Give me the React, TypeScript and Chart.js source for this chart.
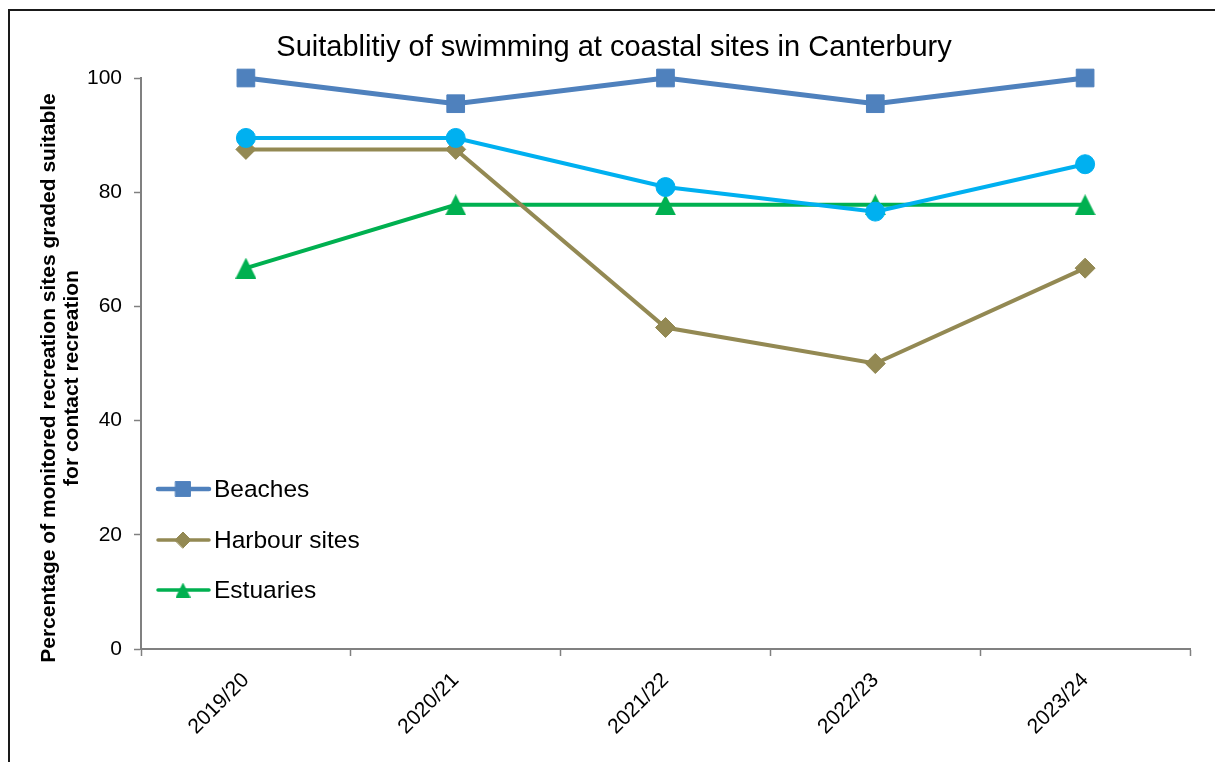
import React, { useEffect, useRef } from 'react';
import { Chart, registerables } from 'chart.js';
import { drawPoint } from 'chart.js/helpers';

Chart.register(...registerables);

const categories = ['2019/20', '2020/21', '2021/22', '2022/23', '2023/24'];
const beaches = [100, 95.5, 100, 95.5, 100];
const allSites = [89.5, 89.5, 80.9, 76.6, 84.9];
const harbour = [87.5, 87.5, 56.3, 50, 66.7];
const estuaries = [66.7, 77.8, 77.8, 77.8, 77.8];
const yTicks = [0, 20, 40, 60, 80, 100];
const titleText = 'Suitablitiy of swimming at coastal sites in Canterbury';
const yTitleLines = [
  'Percentage of monitored recreation sites graded suitable',
  'for contact recreation',
];
const legendNames = ['Beaches', 'Harbour sites', 'Estuaries'];

const FONT = '"Liberation Sans", Arial, Helvetica, sans-serif';

function makeTriangle(w: number, h: number, color: string) {
  const c = document.createElement('canvas');
  c.width = w;
  c.height = h;
  const g = c.getContext('2d')!;
  g.fillStyle = color;
  g.beginPath();
  g.moveTo(w / 2, 0);
  g.lineTo(w, h);
  g.lineTo(0, h);
  g.closePath();
  g.fill();
  return c;
}

const legendTriangle: { img: HTMLCanvasElement | null } = { img: null };

const decorPlugin = {
  id: 'decor',
  beforeDraw(chart: any) {
    const ctx = chart.ctx;
    ctx.save();
    ctx.fillStyle = '#ffffff';
    ctx.fillRect(0, 0, chart.width, chart.height);
    // frame
    ctx.strokeStyle = '#1a1a1a';
    ctx.lineWidth = 2;
    ctx.strokeRect(9, 10, chart.width + 20, chart.height + 20);
    // title
    ctx.fillStyle = '#000000';
    ctx.font = `29px ${FONT}`;
    ctx.textAlign = 'center';
    ctx.textBaseline = 'middle';
    ctx.fillText(titleText, 614, 48);
    // y axis title
    ctx.translate(60.5, 378);
    ctx.rotate(-Math.PI / 2);
    ctx.font = `bold 21px ${FONT}`;
    yTitleLines.forEach((line, i) => {
      ctx.fillText(line, 0, -11.5 + i * 23);
    });
    ctx.restore();
  },
  afterDatasetsDraw(chart: any) {
    const ctx = chart.ctx;
    ctx.save();
    const rows = [489, 540, 590];
    const radii: Record<string, number> = { rect: 10.5, rectRot: 8 };
    legendNames.forEach((name, i) => {
      const ds = chart.data.datasets.find((d: any) => d.label === name);
      if (!ds) return;
      const y = rows[i];
      ctx.strokeStyle = ds.borderColor;
      ctx.fillStyle = ds.borderColor;
      ctx.lineWidth = ds.borderWidth - 0.5;
      ctx.lineCap = 'round';
      ctx.beginPath();
      ctx.moveTo(158, y);
      ctx.lineTo(209, y);
      ctx.stroke();
      ctx.lineWidth = 1;
      if (typeof ds.pointStyle === 'string') {
        drawPoint(ctx, { pointStyle: ds.pointStyle, radius: radii[ds.pointStyle] || 8, rotation: 0, borderWidth: 1 }, 183, y);
      } else if (legendTriangle.img) {
        const im = legendTriangle.img;
        ctx.drawImage(im, 183 - im.width / 2, y - im.height / 2);
      }
      ctx.fillStyle = '#000000';
      ctx.font = `24.5px ${FONT}`;
      ctx.textAlign = 'left';
      ctx.textBaseline = 'middle';
      ctx.fillText(name, 214, y + 1);
    });
    ctx.restore();
  },
};

export default function App() {
  const ref = useRef<HTMLCanvasElement | null>(null);
  useEffect(() => {
    document.body.style.margin = '0';
    const canvas = ref.current;
    if (!canvas) return;
    const tri = makeTriangle(21, 21, '#00B050');
    legendTriangle.img = makeTriangle(15, 15, '#00B050');
    const mk = (label: string, data: number[], color: string, style: any, radius: number, width: number) => ({
      label,
      data,
      borderColor: color,
      backgroundColor: color,
      pointBackgroundColor: color,
      pointBorderColor: color,
      pointStyle: style,
      pointRadius: radius,
      pointHoverRadius: radius,
      pointBorderWidth: 1,
      borderWidth: width,
      tension: 0,
      fill: false,
      clip: false,
    });
    const chart = new Chart(canvas, {
      type: 'line',
      data: {
        labels: categories,
        datasets: [
          mk('Beaches', beaches, '#4F81BD', 'rect', 12.5, 5),
          mk('All coastal sites', allSites, '#00B0F0', 'circle', 9.5, 4),
          mk('Harbour sites', harbour, '#938953', 'rectRot', 10, 4),
          mk('Estuaries', estuaries, '#00B050', tri, 11, 4),
        ] as any,
      },
      options: {
        responsive: false,
        animation: false,
        layout: { padding: { top: 78, right: 25, left: 0, bottom: 0 } },
        plugins: {
          legend: { display: false },
          title: { display: false },
          tooltip: { enabled: false },
        },
        scales: {
          x: {
            type: 'category',
            offset: true,
            grid: {
              offset: true,
              drawOnChartArea: false,
              drawTicks: true,
              tickLength: 7,
              tickWidth: 1.5,
              tickColor: '#808080',
            },
            border: { color: '#808080', width: 2 },
            ticks: {
              color: '#000000',
              font: { family: FONT, size: 21 },
              minRotation: 45,
              maxRotation: 45,
              padding: 12,
              autoSkip: false,
            },
            afterFit: (s: any) => {
              s.height = 113;
            },
          },
          y: {
            type: 'linear',
            min: 0,
            max: 100,
            grid: {
              drawOnChartArea: false,
              drawTicks: true,
              tickLength: 7,
              tickWidth: 1.5,
              tickColor: '#808080',
            },
            border: { color: '#808080', width: 2 },
            ticks: {
              color: '#000000',
              font: { family: FONT, size: 21 },
              padding: 12,
              stepSize: 20,
            },
            afterBuildTicks: (s: any) => {
              s.ticks = yTicks.map((v) => ({ value: v }));
            },
            afterFit: (s: any) => {
              s.width = 141;
            },
          },
        },
      },
      plugins: [decorPlugin],
    });
    return () => chart.destroy();
  }, []);
  return (
    <div style={{ width: 1215, height: 762, position: 'relative' }}>
      <canvas ref={ref} width={1215} height={762} style={{ display: 'block' }} />
    </div>
  );
}
